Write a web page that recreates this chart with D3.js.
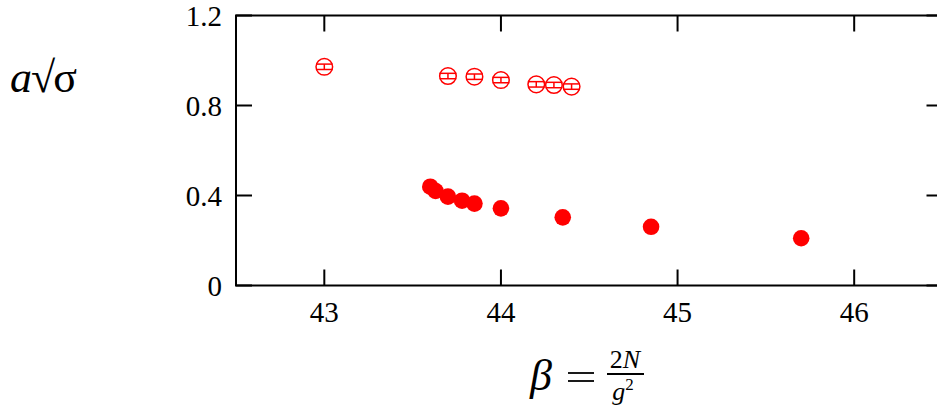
<!DOCTYPE html>
<html><head><meta charset="utf-8">
<script src="https://cdn.jsdelivr.net/npm/d3@7"></script>
<style>body{margin:0;background:#fff}svg{display:block}</style>
</head><body><svg id="c" width="937" height="409"></svg>
<script>
const openBeta = [43.0, 43.7, 43.85, 44.0, 44.2, 44.3, 44.4];
const openVal  = [0.972, 0.931, 0.928, 0.913, 0.894, 0.891, 0.884];
const openErr  = [0.012, 0.012, 0.012, 0.012, 0.012, 0.012, 0.012];
const fillBeta = [43.6, 43.63, 43.7, 43.78, 43.85, 44.0, 44.35, 44.85, 45.7];
const fillVal  = [0.439, 0.420, 0.395, 0.377, 0.364, 0.343, 0.303, 0.261, 0.210];
const xTicks = [43, 44, 45, 46];
const yTicks = [0, 0.4, 0.8, 1.2];

const FONT = "'Liberation Serif', 'Times New Roman', Times, serif";
const svg = d3.select("#c").attr("font-family", FONT);
const x = d3.scaleLinear().domain([42.5, 46.5]).range([236, 942.5]);
const y = d3.scaleLinear().domain([0, 1.2]).range([285.5, 15.5]);
const red = "#ff0000";

// frame
svg.append("rect").attr("x", x(42.5)).attr("y", y(1.2))
  .attr("width", x(46.5) - x(42.5)).attr("height", y(0) - y(1.2))
  .attr("fill", "none").attr("stroke", "#000").attr("stroke-width", 2);

const tl = 16;
const g = svg.append("g");
xTicks.forEach(t => {
  g.append("line").attr("x1", x(t)).attr("x2", x(t)).attr("y1", y(0)).attr("y2", y(0) - tl).attr("stroke", "#000").attr("stroke-width", 2);
  g.append("line").attr("x1", x(t)).attr("x2", x(t)).attr("y1", y(1.2)).attr("y2", y(1.2) + tl).attr("stroke", "#000").attr("stroke-width", 2);
  g.append("text").attr("x", x(t)).attr("y", 322).attr("text-anchor", "middle").attr("font-size", 29).text(t);
});
yTicks.forEach(t => {
  g.append("line").attr("x1", x(42.5)).attr("x2", x(42.5) + tl).attr("y1", y(t)).attr("y2", y(t)).attr("stroke", "#000").attr("stroke-width", 2);
  g.append("line").attr("x1", x(46.5)).attr("x2", x(46.5) - tl).attr("y1", y(t)).attr("y2", y(t)).attr("stroke", "#000").attr("stroke-width", 2);
  g.append("text").attr("x", 222).attr("y", y(t) + 10).attr("text-anchor", "end").attr("font-size", 29).text(t === 0 ? "0" : t.toFixed(1));
});

// filled points
svg.append("g").selectAll("circle").data(fillBeta.map((b, i) => [b, fillVal[i]])).join("circle")
  .attr("cx", d => x(d[0])).attr("cy", d => y(d[1])).attr("r", 8.3).attr("fill", red);

// open points with error bars
const og = svg.append("g").attr("stroke", red).attr("stroke-width", 1.5).attr("fill", "none");
openBeta.forEach((b, i) => {
  const cx = x(b), cy = y(openVal[i]), y1 = y(openVal[i] + openErr[i]), y2 = y(openVal[i] - openErr[i]);
  og.append("circle").attr("cx", cx).attr("cy", cy).attr("r", 8.3);
  og.append("line").attr("x1", cx).attr("x2", cx).attr("y1", y1).attr("y2", y2);
  og.append("line").attr("x1", cx - 8.3).attr("x2", cx + 8.3).attr("y1", y1).attr("y2", y1);
  og.append("line").attr("x1", cx - 8.3).attr("x2", cx + 8.3).attr("y1", y2).attr("y2", y2);
});

// y label a√σ
const yl = svg.append("text").attr("x", 10).attr("y", 92).attr("font-size", 44);
yl.append("tspan").attr("font-style", "italic").text("a");
yl.append("tspan").attr("dx", -1).text("√");
yl.append("tspan").attr("dx", -2).text("σ");

// x label β = 2N/g²
svg.append("text").attr("x", 530).attr("y", 390).attr("font-size", 44).attr("font-style", "italic").text("β");
svg.append("line").attr("x1", 568).attr("x2", 594).attr("y1", 373).attr("y2", 373).attr("stroke", "#000").attr("stroke-width", 1.8);
svg.append("line").attr("x1", 568).attr("x2", 594).attr("y1", 381).attr("y2", 381).attr("stroke", "#000").attr("stroke-width", 1.8);
svg.append("text").attr("x", 625).attr("y", 368).attr("font-size", 26).attr("text-anchor", "middle")
  .html('2<tspan font-style="italic">N</tspan>');
svg.append("line").attr("x1", 607).attr("x2", 644).attr("y1", 374).attr("y2", 374).attr("stroke", "#000").attr("stroke-width", 2);
svg.append("text").attr("x", 623).attr("y", 400).attr("font-size", 26).attr("text-anchor", "middle")
  .html('<tspan font-style="italic">g</tspan><tspan font-size="17" dy="-10">2</tspan>');
</script></body></html>
